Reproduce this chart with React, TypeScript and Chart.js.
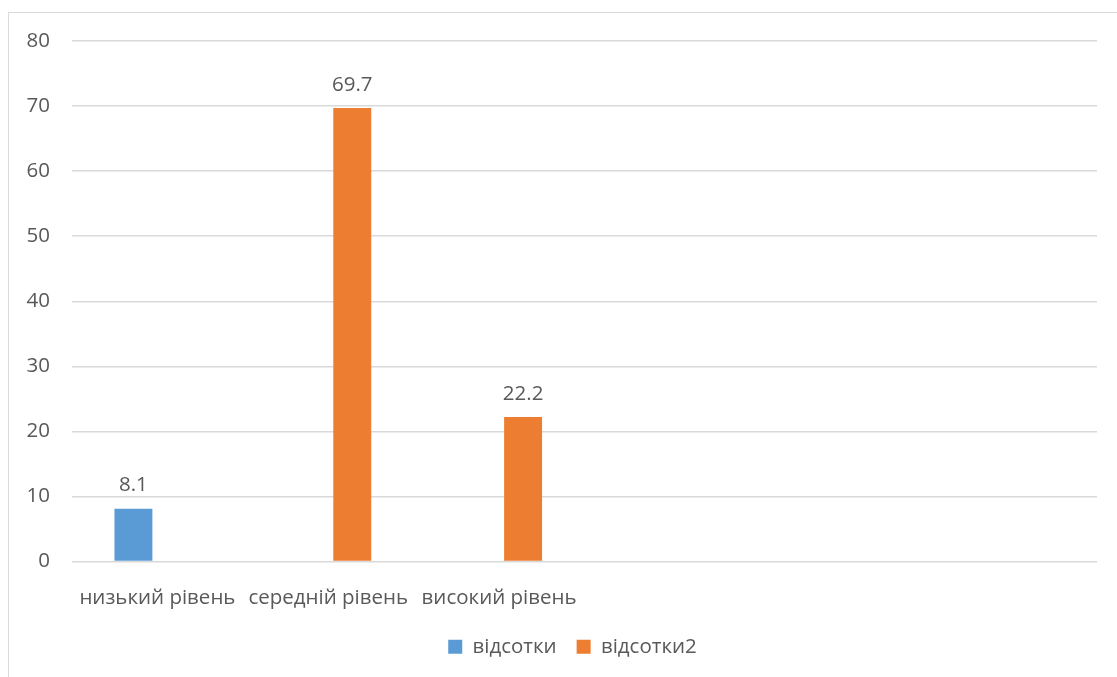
import React, { useEffect, useRef } from "react";
import { Chart, registerables } from "chart.js";

Chart.register(...registerables);

// Categories (the last three are blank slots kept on the axis)
const categories: string[] = ["низький рівень", "середній рівень", "високий рівень", "", "", ""];

// Series values
const seriesNames: string[] = ["відсотки", "відсотки2"];
const percentA: (number | null)[] = [8.1, null, null, null, null, null];
const percentB: (number | null)[] = [null, 69.7, 22.2, null, null, null];

// Value axis
const yMin = 0;
const yMax = 80;
const yStep = 10;

const BLUE = "#5B9BD5";
const ORANGE = "#ED7D31";
const TEXT = "#595959";
const GRID = "#D9D9D9";
const FONT = "'Open Sans', sans-serif";
const SIZE = 20.5;

// Writes each bar's value just above it
const valueLabels = {
  id: "valueLabels",
  afterDatasetsDraw(chart: any) {
    const ctx = chart.ctx;
    ctx.save();
    ctx.fillStyle = TEXT;
    ctx.font = `${SIZE}px ${FONT}`;
    ctx.textAlign = "center";
    ctx.textBaseline = "alphabetic";
    chart.data.datasets.forEach((ds: any, i: number) => {
      const meta = chart.getDatasetMeta(i);
      meta.data.forEach((bar: any, j: number) => {
        const v = ds.data[j];
        if (v === null || v === undefined) return;
        ctx.fillText(String(v), bar.x, bar.y - 17.5);
      });
    });
    ctx.restore();
  },
};

// Nudges the legend row sideways after layout
const legendShift = {
  id: "legendShift",
  afterLayout(chart: any) {
    const lg = chart.legend;
    if (!lg) return;
    lg.left += 11.5;
    lg.right += 11.5;
  },
};

export default function App() {
  const canvasRef = useRef<HTMLCanvasElement | null>(null);

  useEffect(() => {
    if (!canvasRef.current) return;
    const chart = new Chart(canvasRef.current, {
      type: "bar",
      data: {
        labels: categories,
        datasets: [
          {
            label: seriesNames[0],
            data: percentA,
            backgroundColor: BLUE,
            categoryPercentage: 0.562,
            barPercentage: 0.79,
          },
          {
            label: seriesNames[1],
            data: percentB,
            backgroundColor: ORANGE,
            categoryPercentage: 0.562,
            barPercentage: 0.79,
          },
        ],
      },
      options: {
        animation: false,
        responsive: false,
        maintainAspectRatio: false,
        layout: { padding: { top: 28, right: 20, bottom: 26, left: 16 } },
        plugins: {
          tooltip: { enabled: false },
          legend: {
            position: "bottom",
            labels: {
              boxWidth: 14,
              boxHeight: 14,
              padding: 20,
              color: TEXT,
              font: { family: FONT, size: SIZE },
            },
          },
        },
        scales: {
          x: {
            grid: { display: false, drawTicks: false },
            border: { display: false },
            ticks: {
              color: TEXT,
              font: { family: FONT, size: SIZE },
              padding: 24,
              maxRotation: 0,
              autoSkip: false,
            },
            afterFit(scale: any) {
              scale.height = 55;
            },
          },
          y: {
            min: yMin,
            max: yMax,
            grid: { color: GRID, lineWidth: 1.4, drawTicks: false },
            border: { display: false },
            ticks: {
              stepSize: yStep,
              color: TEXT,
              font: { family: FONT, size: SIZE, lineHeight: 0.5 },
              padding: 22,
            },
            afterFit(scale: any) {
              scale.width = 47;
            },
          },
        },
      },
      plugins: [valueLabels, legendShift],
    });
    return () => chart.destroy();
  }, []);

  return (
    <div style={{ position: "fixed", left: 0, top: 0, width: 1117, height: 677, overflow: "hidden", background: "#fff" }}>
      <div
        style={{
          position: "absolute",
          left: 8,
          top: 12,
          width: 1130,
          height: 700,
          border: `1px solid ${GRID}`,
          background: "#fff",
        }}
      >
        <canvas ref={canvasRef} width={1108} height={680} style={{ display: "block", width: 1108, height: 680 }} />
      </div>
    </div>
  );
}
